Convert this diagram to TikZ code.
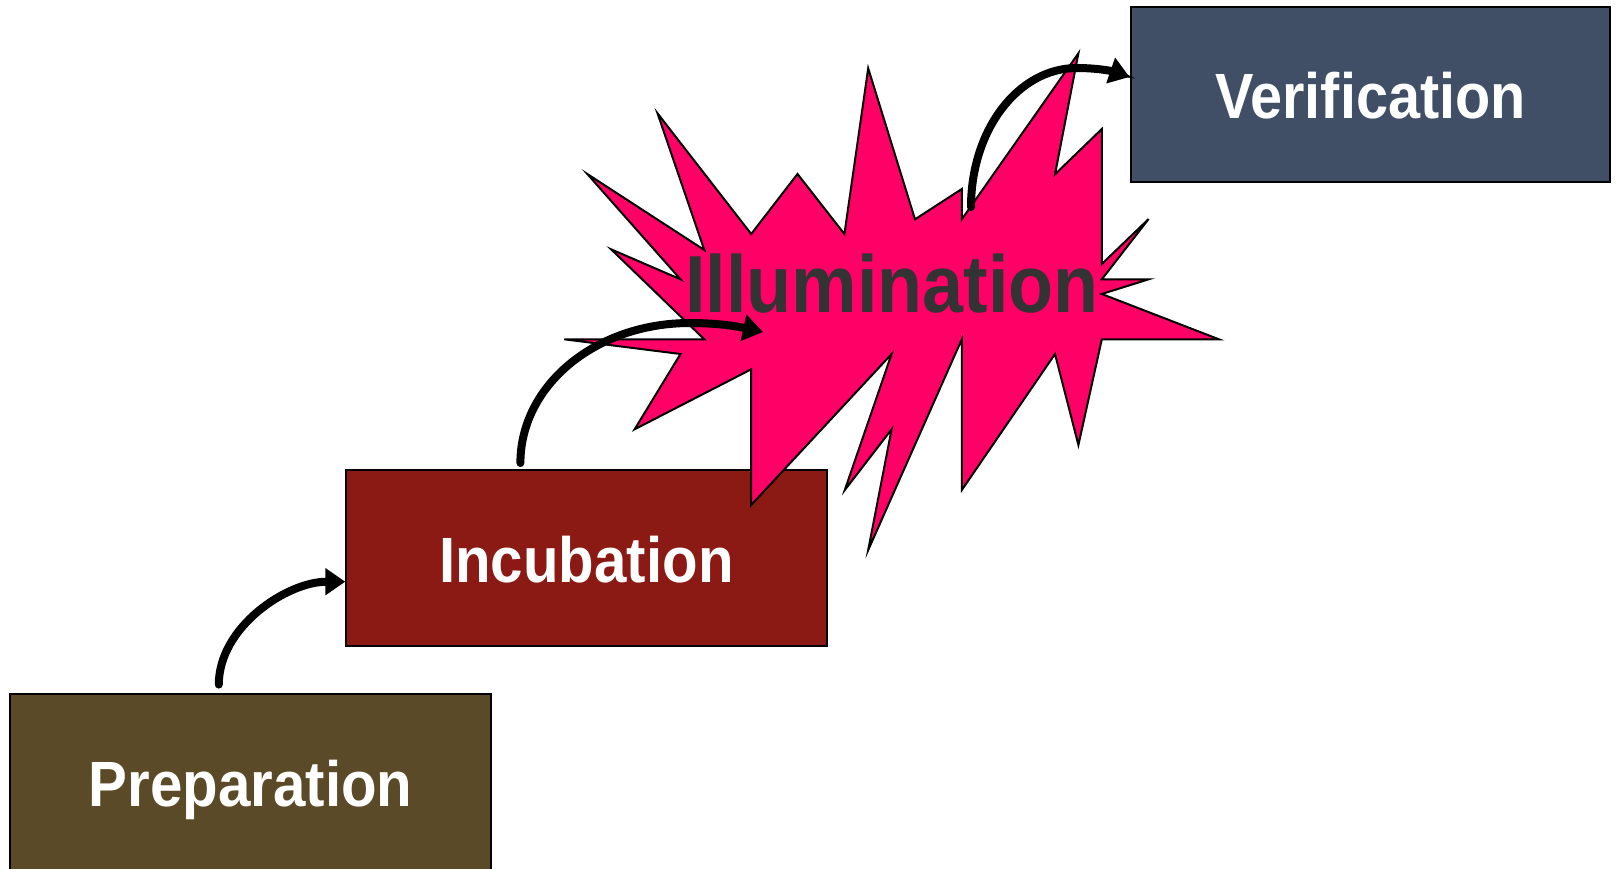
\documentclass[tikz,border=0pt]{standalone}
\usepackage{fontspec}
\setmainfont{Liberation Sans}
\usepackage{graphicx}
\usetikzlibrary{arrows.meta}
\definecolor{prepcol}{HTML}{5A4A27}
\definecolor{incucol}{HTML}{8B1A14}
\definecolor{verifcol}{HTML}{404F66}
\definecolor{burstcol}{HTML}{FF0066}
\definecolor{illucol}{HTML}{333333}
\tikzset{
  stagebox/.style={draw=black, line width=2pt, inner sep=0pt},
  stagelabel/.style={text=white, font=\fontsize{64}{70}\selectfont\bfseries, anchor=base, inner sep=0pt},
  burst/.style={draw=black, line width=2pt, fill=burstcol, line join=miter},
  flow/.style={line width=8pt, line cap=round, -{Triangle[length=20pt,width=26pt]}},
}
\begin{document}
\begin{tikzpicture}[x=1pt,y=-1pt]
\useasboundingbox (0,0) rectangle (1616,868);
\clip (0,0) rectangle (1616,868);
\fill[white] (0,0) rectangle (1616,868);

% boxes
\node[stagebox, fill=prepcol, minimum width=480.3pt, minimum height=178.4pt] (prep) at (250.6,782.8) {};
\node[stagelabel] (preplabel) at (250.6,806) {\scalebox{0.91}[1]{Preparation}};

\node[stagebox, fill=incucol, minimum width=480.2pt, minimum height=176.2pt] (incub) at (586.4,558.1) {};
\node[stagelabel] (incublabel) at (586.4,582) {\scalebox{0.91}[1]{Incubation}};

\node[stagebox, fill=verifcol, minimum width=479.9pt, minimum height=175pt] (verif) at (1370.5,94) {};
\node[stagelabel] (veriflabel) at (1370.5,118.5) {\scalebox{0.9}[1]{Verification}};

% starburst
\draw[burst] (564.3,339.3) -- (704.3,339.3) -- (611.1,249.3) -- (680.5,279.3)
  -- (587.3,174.0) -- (704.3,250.0) -- (657.5,113.3) -- (751.2,234.0)
  -- (797.5,174.0) -- (844.4,234.0) -- (868.2,68.3) -- (915.0,219.3)
  -- (961.8,189.0) -- (961.8,219.3) -- (1078.4,53.3) -- (1055.0,174.3)
  -- (1101.8,129.0) -- (1101.8,264.0) -- (1148.6,219.0) -- (1101.8,279.3)
  -- (1148.6,279.3) -- (1101.8,294.0) -- (1218.9,339.3) -- (1101.8,339.3)
  -- (1078.4,445.0) -- (1055.0,354.0) -- (961.8,490.0) -- (961.8,339.3)
  -- (868.2,550.0) -- (891.6,429.3) -- (844.8,490.0) -- (891.6,354.0)
  -- (751.2,505.0) -- (751.2,369.3) -- (634.6,429.3) -- (680.5,354.0)
  -- cycle;
\node[anchor=base, inner sep=0pt, text=illucol, font=\fontsize{81}{90}\selectfont\bfseries] (illum) at (892,312.3) {\scalebox{0.91}[1]{Illumination}};
\coordinate (burstin) at (763,332);
\coordinate (burstout) at (971,207);

% connectors
\draw[flow] ([xshift=-31.8pt,yshift=8pt]prep.north)
  .. controls ([xshift=-31.8pt,yshift=66pt]prep.north) and ([xshift=-58pt,yshift=-23.6pt]incub.west)
  .. ([yshift=-23.6pt]incub.west);
\draw[flow] ([xshift=-66pt,yshift=6pt]incub.north)
  .. controls ([xshift=-66pt,yshift=84pt]incub.north) and (596,323) .. (690,323)
  .. controls (720,323) and (740,327) .. (burstin);
\draw[flow] (burstout)
  .. controls (971,130) and (1018,68) .. (1077,68)
  .. controls (1100,68) and (1115,72) .. ([yshift=17pt]verif.west);
\end{tikzpicture}
\end{document}
